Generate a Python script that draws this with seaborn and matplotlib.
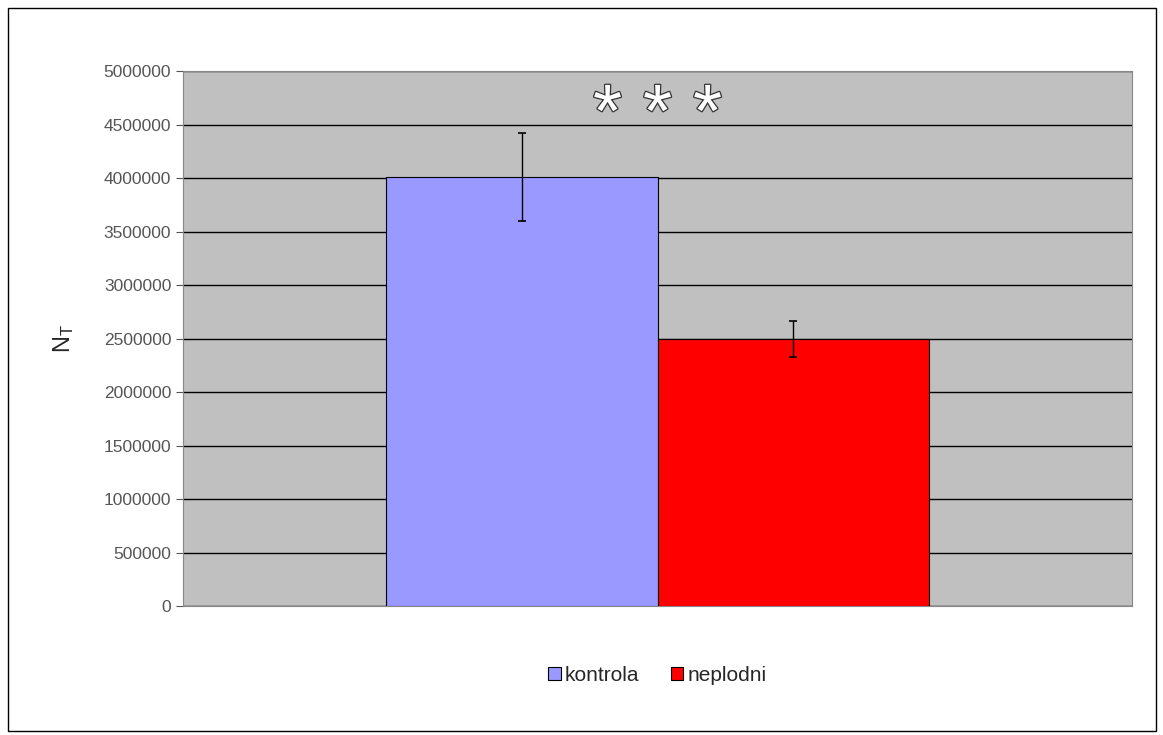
import matplotlib
matplotlib.use("Agg")
import matplotlib.pyplot as plt
import matplotlib.patheffects as pe
import seaborn as sns
import pandas as pd

# podaci
skupine = ["kontrola", "neplodni"]
vrijednosti = [4010000, 2495000]
greske = [415000, 170000]
boje = ["#9999FF", "#FF0000"]
y_ticks = [0, 500000, 1000000, 1500000, 2000000, 2500000, 3000000, 3500000, 4000000, 4500000, 5000000]

sns.set_style("white")
plt.rcParams["font.family"] = ["Liberation Sans", "DejaVu Sans"]

df = pd.DataFrame({"x": ["" for _ in skupine], "skupina": skupine, "N": vrijednosti})

fig = plt.figure(figsize=(11.63, 7.35), dpi=100)
ax = fig.add_axes([0.1574, 0.1755, 0.8159, 0.7279])
ax.set_facecolor("#C0C0C0")

sns.barplot(data=df, x="x", y="N", hue="skupina", palette=boje, saturation=1, width=0.573,
            errorbar=None, edgecolor="black", linewidth=0.8, ax=ax, zorder=3)

# error bars na sredini stupaca
for patch, v, e in zip(ax.patches, vrijednosti, greske):
    cx = patch.get_x() + patch.get_width() / 2
    ax.errorbar(cx, v, yerr=e, fmt="none", ecolor="black", elinewidth=1,
                capsize=3, capthick=1.2, zorder=4)

ax.set_xlim(-0.5, 0.5)
ax.set_ylim(0, 5000000)
ax.set_yticks(y_ticks)
ax.set_yticklabels([str(t) for t in y_ticks], fontsize=12.5, color="#555555")
ax.set_xticks([])
ax.set_xlabel("")
ax.set_ylabel(r"$\mathregular{N_T}$", fontsize=17, labelpad=20, rotation=90)
ax.tick_params(axis="y", direction="out", length=5, width=0.8, color="#555555", left=True)

ax.yaxis.grid(True, color="black", linewidth=1)
ax.set_axisbelow(True)
for s in ax.spines.values():
    s.set_color("#888888")
    s.set_linewidth(0.8)

ax.text(0.0, 4570000, "* * *", ha="center", va="center", fontsize=54, color="white",
        path_effects=[pe.withStroke(linewidth=1.8, foreground="#333333")], zorder=5)

leg = ax.legend(loc="center", bbox_to_anchor=(0.5, -0.13), ncol=2, frameon=False,
                fontsize=15, handlelength=0.6, handleheight=0.6, handletextpad=0.2,
                columnspacing=1.5)

# okvir oko cijele slike
fig.patches.append(plt.Rectangle((0.007, 0.005), 0.987, 0.984, transform=fig.transFigure,
                                 fill=False, edgecolor="black", linewidth=1))

fig.savefig("out.png", dpi=100)
